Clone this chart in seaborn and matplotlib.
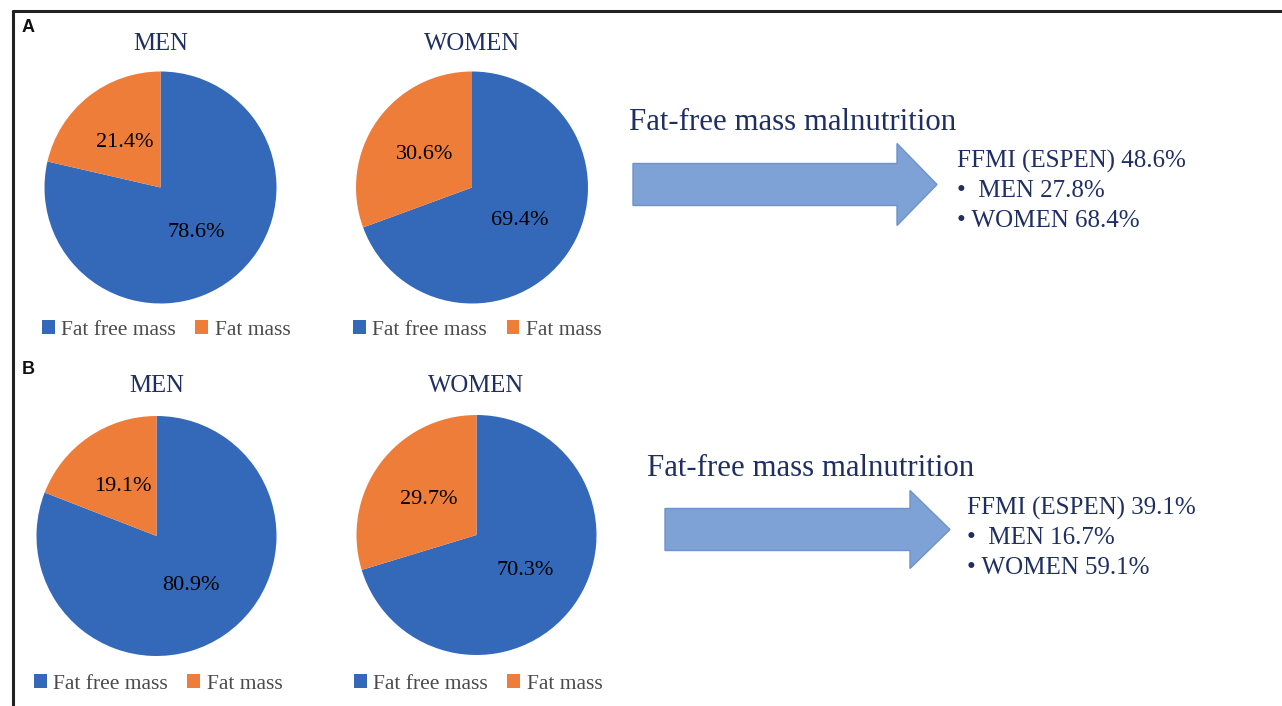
import matplotlib
matplotlib.use("Agg")
import matplotlib.pyplot as plt
import seaborn as sns
from matplotlib.patches import FancyArrow

# Datos
components = ["Fat free mass", "Fat mass"]
a_men = [78.6, 21.4]
a_women = [69.4, 30.6]
b_men = [80.9, 19.1]
b_women = [70.3, 29.7]
arrow_title = "Fat-free mass malnutrition"
a_ffmi = ["FFMI (ESPEN) 48.6%", "•  MEN 27.8%", "• WOMEN 68.4%"]
b_ffmi = ["FFMI (ESPEN) 39.1%", "•  MEN 16.7%", "• WOMEN 59.1%"]

W, H = 1282, 706
sns.set_theme(style="white")
plt.rcParams['font.family'] = ['Liberation Serif', 'DejaVu Serif']

colors = ["#3468b9", "#ef7d3a"]
navy = "#1f2f63"

fig = plt.figure(figsize=(W / 100, H / 100), dpi=100)

# capa de fondo en pixeles
bg = fig.add_axes([0, 0, 1, 1])
bg.set_xlim(0, W)
bg.set_ylim(H, 0)
bg.axis("off")
bg.plot([12, W], [10.5, 10.5], color="#222222", lw=2.2, solid_capstyle="butt")
bg.plot([12.5, 12.5], [10, H], color="#222222", lw=2.2, solid_capstyle="butt")


def draw_pie(values, title, cx, cy, r, title_y, legend_x, legend_y):
    ax = fig.add_axes([(cx - r) / W, 1 - (cy + r) / H, 2 * r / W, 2 * r / H])
    wedges, texts, autotexts = ax.pie(values, colors=colors, startangle=90, counterclock=False,
                                      autopct='%1.1f%%', pctdistance=0.5,
                                      wedgeprops=dict(linewidth=0, edgecolor="none"),
                                      textprops=dict(fontsize=16, color="black"))
    ax.set_xlim(-1, 1)
    ax.set_ylim(-1, 1)
    bg.text(cx, title_y, title, ha="center", va="center", fontsize=17.8, color=navy)
    fig.legend(wedges, components, loc="center left",
               bbox_to_anchor=(legend_x / W, 1 - legend_y / H), bbox_transform=fig.transFigure,
               ncol=2, frameon=False, handlelength=0.6, handleheight=0.6, handletextpad=0.3,
               columnspacing=0.9, borderpad=0, borderaxespad=0, labelcolor="#4a4a4a",
               prop=dict(size=15.5))


def draw_arrow(x0, tip_x, yc, head_w, head_len, title_x, title_y, lines, text_x, text_y):
    bg.add_patch(FancyArrow(x0, yc, tip_x - x0, 0, width=42, head_width=head_w, head_length=head_len,
                            length_includes_head=True, facecolor="#7ea1d6", edgecolor="#6e92cb", lw=1))
    bg.text(title_x, title_y, arrow_title, ha="left", va="center", fontsize=22.2, color=navy)
    for i, line in enumerate(lines):
        bg.text(text_x, text_y + i * 30, line, ha="left", va="center", fontsize=18, color=navy)


# Panel A
bg.text(22, 28, "A", fontsize=13, fontweight="bold", family="Liberation Sans", va="center", color="#111111")
draw_pie(a_men, "MEN", 160.5, 187.5, 116, 44, 42, 330)
draw_pie(a_women, "WOMEN", 472, 187.5, 116, 44, 353, 330)
draw_arrow(633, 937, 184.5, 82, 40, 629, 123, a_ffmi, 957, 161)

# Panel B
bg.text(22, 370, "B", fontsize=13, fontweight="bold", family="Liberation Sans", va="center", color="#111111")
draw_pie(b_men, "MEN", 156.5, 536, 120, 386, 34, 684)
draw_pie(b_women, "WOMEN", 476.5, 535, 120, 386, 354, 684)
draw_arrow(665, 950, 529.5, 78, 40, 647, 468, b_ffmi, 967, 508)

fig.savefig("out.png", dpi=100, facecolor="white")
